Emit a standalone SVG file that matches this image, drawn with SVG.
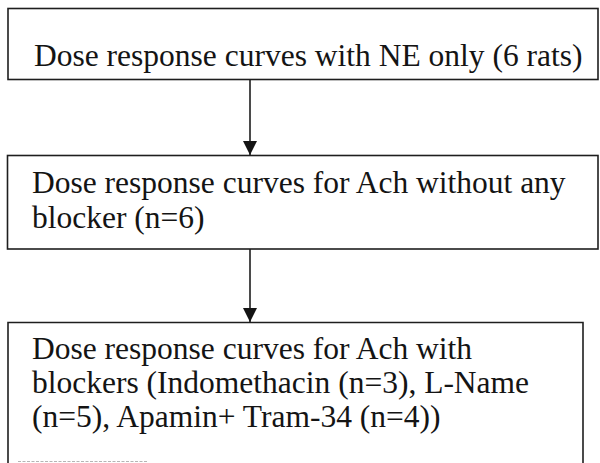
<svg xmlns="http://www.w3.org/2000/svg" width="600" height="463" viewBox="0 0 600 463">
  <style>
    .box { fill: #ffffff; stroke: #1e1e1e; stroke-width: 1.6; }
    .lbl { font-family: 'Liberation Serif', 'DejaVu Serif', serif; font-size: 31.5px; fill: #141414; }
    .conn { stroke: #1e1e1e; stroke-width: 1.6; fill: none; }
  </style>
  <defs>
    <marker id="arrow" markerUnits="userSpaceOnUse" markerWidth="16" markerHeight="16" refX="14" refY="7" orient="auto">
      <path d="M0,0 L14,7 L0,14 Z" fill="#141414"/>
    </marker>
  </defs>
  <rect width="600" height="463" fill="#ffffff"/>
  <g id="node-ne">
    <rect class="box" x="8" y="8.5" width="590" height="71"/>
    <text class="lbl" font-family="Liberation Serif, DejaVu Serif, serif" x="34" y="66">Dose response curves with NE only (6 rats)</text>
  </g>
  <g id="node-ach">
    <rect class="box" x="7.5" y="155.5" width="590.5" height="93.5"/>
    <text class="lbl" font-family="Liberation Serif, DejaVu Serif, serif" x="32" y="193">Dose response curves for Ach without any</text>
    <text class="lbl" font-family="Liberation Serif, DejaVu Serif, serif" x="32" y="228">blocker (n=6)</text>
  </g>
  <g id="node-blockers">
    <path class="box" d="M8,470 L8,322.5 L583,322.5 L583,470"/>
    <text class="lbl" font-family="Liberation Serif, DejaVu Serif, serif" x="32" y="359">Dose response curves for Ach with</text>
    <text class="lbl" font-family="Liberation Serif, DejaVu Serif, serif" x="32" y="393">blockers (Indomethacin (n=3), L-Name</text>
    <text class="lbl" font-family="Liberation Serif, DejaVu Serif, serif" x="32" y="427">(n=5), Apamin+ Tram-34 (n=4))</text>
    <line x1="18" y1="461.5" x2="147" y2="461.5" stroke="#b5b5b5" stroke-width="1" stroke-dasharray="3,1.5"/>
  </g>
  <g id="connectors">
    <line class="conn" x1="250" y1="80" x2="250" y2="155" marker-end="url(#arrow)"/>
    <line class="conn" x1="250" y1="249" x2="250" y2="322" marker-end="url(#arrow)"/>
  </g>
</svg>
